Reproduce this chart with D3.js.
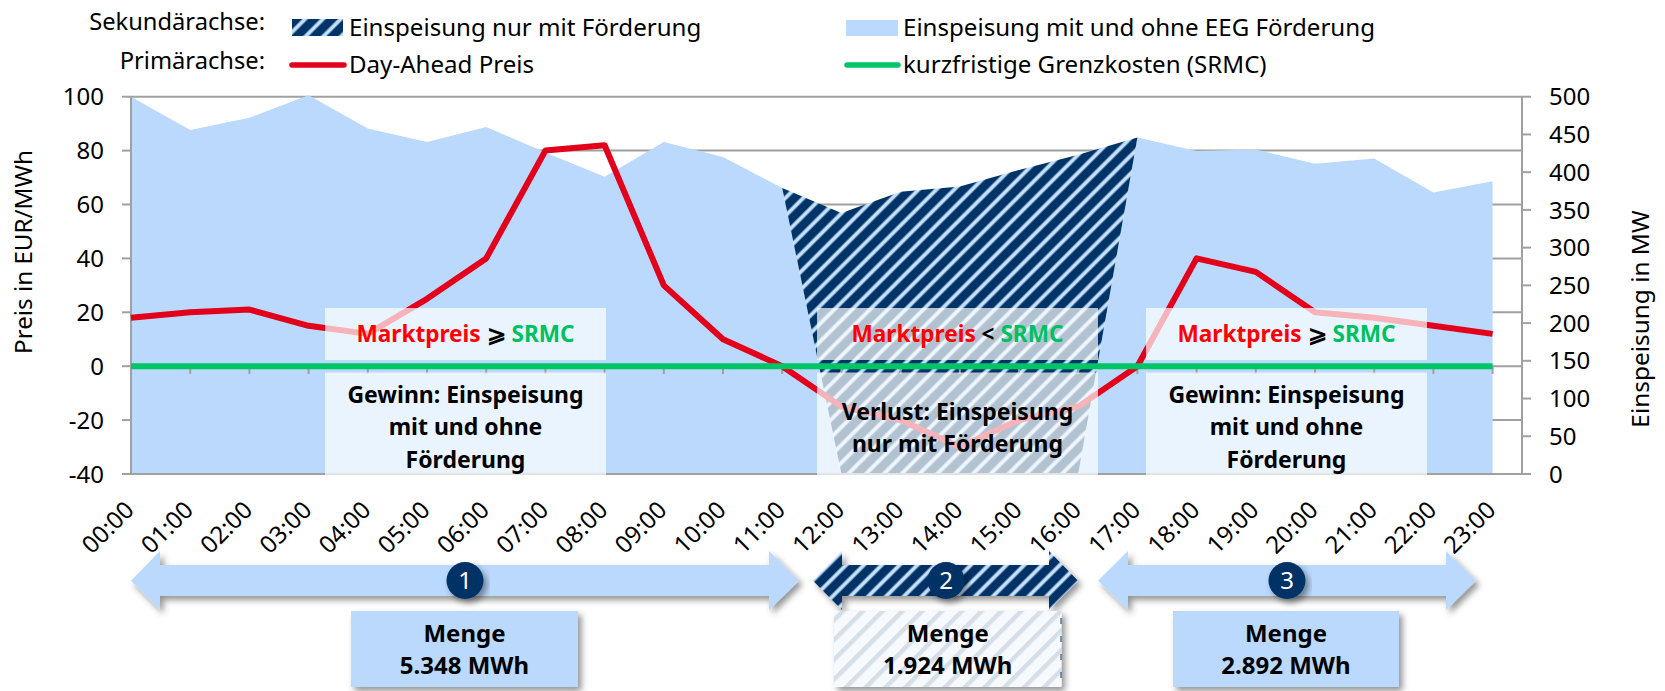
<!DOCTYPE html>
<html><head><meta charset="utf-8">
<style>html,body{margin:0;padding:0;background:#fff}svg{display:block}text{font-family:"Noto Sans",sans-serif;fill:#000}</style>
<script src="https://cdn.jsdelivr.net/npm/d3@7"></script></head><body>
<svg id="c" width="1665" height="691"></svg>
<script>
const stunden = ["00:00","01:00","02:00","03:00","04:00","05:00","06:00","07:00","08:00","09:00","10:00","11:00","12:00","13:00","14:00","15:00","16:00","17:00","18:00","19:00","20:00","21:00","22:00","23:00"];
const preis = [18,20,21,15,12,25,40,80,82,30,10,0,-15,-20,-30,-20,-15,0,40,35,20,18,15,12];
const srmc = [0,0,0,0,0,0,0,0,0,0,0,0,0,0,0,0,0,0,0,0,0,0,0,0];
const einspeisungMitOhne = [500,456,472,502,458,440,460,426,394,440,420,379,0,0,0,0,0,446,428,430,411,418,373,388];
const einspeisungNurFoerderung = [0,0,0,0,0,0,0,0,0,0,0,0,346,374,381,403,423,0,0,0,0,0,0,0];
const primaerTicks = [-40,-20,0,20,40,60,80,100];
const sekundaerTicks = [0,50,100,150,200,250,300,350,400,450,500];
const mengen = [["1","5.348 MWh"],["2","1.924 MWh"],["3","2.892 MWh"]];

const svg = d3.select("#c"), defs = svg.append("defs");
const L=131,R=1522,T=96.7,B=474;
const C={grid:"#a0a0a0",blue:"#bad9fd",navy:"#003366",red:"#e2001a",green:"#00c566"};
const x=d3.scalePoint().domain(stunden).range([L,1492.6]);
const yP=d3.scaleLinear().domain([-40,100]).range([B,T]);
const yS=d3.scaleLinear().domain([0,500]).range([B,T]);

// diagonal hatch with soft stripe edges
const P=12.6;
const ph=defs.append("pattern").attr("id","h").attr("patternUnits","userSpaceOnUse")
  .attr("width",P).attr("height",P).attr("patternTransform","rotate(45)");
ph.append("rect").attr("width",P).attr("height",P).attr("fill",C.navy);
ph.append("rect").attr("x",0).attr("width",4.8).attr("height",P).attr("fill","#5f87b3");
ph.append("rect").attr("x",.9).attr("width",3).attr("height",P).attr("fill","#c6e0fd");
const pb=defs.append("pattern").attr("id","hBox").attr("patternUnits","userSpaceOnUse")
  .attr("width",14).attr("height",14).attr("patternTransform","rotate(45)");
pb.append("rect").attr("width",14).attr("height",14).attr("fill","#f6faff");
pb.append("rect").attr("x",4).attr("width",4.5).attr("height",14).attr("fill","#d6dfe8");
const f=defs.append("filter").attr("id","sh").attr("x","-10%").attr("y","-30%").attr("width","125%").attr("height","170%");
f.append("feDropShadow").attr("dx",3.5).attr("dy",4).attr("stdDeviation",3).attr("flood-color","#000").attr("flood-opacity",.42);

// grid
svg.append("g").selectAll("line").data(primaerTicks).join("line")
  .attr("x1",L).attr("x2",R).attr("y1",yP).attr("y2",yP).attr("stroke",C.grid).attr("stroke-width",2);

// stacked areas
const rows=stunden.map((s,i)=>({s,base:einspeisungMitOhne[i],nur:einspeisungNurFoerderung[i]}));
const st=d3.stack().keys(["base","nur"])(rows);
const area=d3.area().x(d=>x(d.data.s)).y0(d=>yS(d[0])).y1(d=>yS(d[1]));
svg.append("path").datum(st[0]).attr("d",area).attr("fill",C.blue);
svg.append("path").datum(st[1]).attr("d",area).attr("fill","url(#h)");

// axes
const axisG=svg.append("g");
axisG.append("line").attr("x1",L).attr("x2",L).attr("y1",T).attr("y2",B+1).attr("stroke",C.grid).attr("stroke-width",2);
axisG.append("line").attr("x1",R).attr("x2",R).attr("y1",T).attr("y2",B+1).attr("stroke",C.grid).attr("stroke-width",2);
axisG.append("line").attr("x1",L).attr("x2",R).attr("y1",B).attr("y2",B).attr("stroke",C.grid).attr("stroke-width",2);
axisG.selectAll(".tl").data(primaerTicks).join("line").attr("x1",122).attr("x2",L).attr("y1",yP).attr("y2",yP).attr("stroke",C.grid).attr("stroke-width",2);
axisG.selectAll(".tr").data(sekundaerTicks).join("line").attr("x1",R).attr("x2",1531).attr("y1",yS).attr("y2",yS).attr("stroke",C.grid).attr("stroke-width",2);
axisG.selectAll(".tx").data(stunden).join("line").attr("x1",x).attr("x2",x).attr("y1",yP(0)).attr("y2",374).attr("stroke",C.grid).attr("stroke-width",2);

const FS=24;
svg.append("g").selectAll("text").data(primaerTicks).join("text").attr("x",104).attr("y",yP).attr("dy",".36em").attr("text-anchor","end").attr("font-size",FS).text(d=>d);
svg.append("g").selectAll("text").data(sekundaerTicks).join("text").attr("x",1549).attr("y",yS).attr("dy",".36em").attr("font-size",FS).text(d=>d);
svg.append("g").selectAll("text").data(stunden).join("text").attr("text-anchor","end").attr("font-size",FS)
  .attr("transform",d=>`translate(${x(d)+4.5},${511.5}) rotate(-45)`).text(d=>d);
svg.append("text").attr("transform",`translate(23,252) rotate(-90)`).attr("dy",".36em").attr("text-anchor","middle").attr("font-size",24.2).text("Preis in EUR/MWh");
svg.append("text").attr("transform",`translate(1640,319) rotate(-90)`).attr("dy",".36em").attr("text-anchor","middle").attr("font-size",24.4).text("Einspeisung in MW");

// price line
const ln=d3.line().x((d,i)=>x(stunden[i])).y(d=>yP(d));
svg.append("path").datum(preis).attr("d",ln).attr("fill","none").attr("stroke",C.red).attr("stroke-width",6).attr("stroke-linejoin","round");

// translucent boxes
const boxes=[[325,606],[817,1098],[1146,1427]];
boxes.forEach(([a,b])=>{
  svg.append("rect").attr("x",a).attr("y",308).attr("width",b-a).attr("height",52).attr("fill","#fff").attr("fill-opacity",.7);
  svg.append("rect").attr("x",a).attr("y",372.5).attr("width",b-a).attr("height",102.5).attr("fill","#fff").attr("fill-opacity",.7);
});
// SRMC
svg.append("path").datum(srmc).attr("d",ln).attr("fill","none").attr("stroke",C.green).attr("stroke-width",6);

// box texts
function cmp(cx,sym){
  const t=svg.append("text").attr("x",cx).attr("y",334).attr("dy",".36em").attr("text-anchor","middle").attr("font-size",22.6).attr("font-weight",700);
  t.append("tspan").text("Marktpreis").style("fill","#ff0000");
  t.append("tspan").text(" "+sym+" ");
  t.append("tspan").text("SRMC").style("fill","#00c060");
}
const cxs=[465.5,957.5,1286.5];
cmp(cxs[0],"⩾");cmp(cxs[1],"<");cmp(cxs[2],"⩾");
function lines(cx,ys,arr,fs){arr.forEach((s,i)=>svg.append("text").attr("x",cx).attr("y",ys[i]).attr("dy",".36em").attr("text-anchor","middle").attr("font-size",fs).attr("font-weight",700).text(s));}
lines(cxs[0],[395,427,460],["Gewinn: Einspeisung","mit und ohne","Förderung"],23);
lines(cxs[1],[412,444],["Verlust: Einspeisung","nur mit Förderung"],23);
lines(cxs[2],[395,427,460],["Gewinn: Einspeisung","mit und ohne","Förderung"],23);

// arrows
const arrows=[[131,160,769,799,C.blue,465],[813,842,1049,1078,"url(#h)",946],[1098,1128,1446,1476,C.blue,1287]];
arrows.forEach(([a,b,c,d,fill])=>{
  const y0=565,y1=596,h0=551,h1=610,m=580.7;
  svg.append("path").attr("d",`M${a},${m}L${b},${h0}L${b},${y0}L${c},${y0}L${c},${h0}L${d},${m}L${c},${h1}L${c},${y1}L${b},${y1}L${b},${h1}Z`).attr("fill",fill).attr("filter","url(#sh)");
});
arrows.forEach((r,i)=>{
  svg.append("circle").attr("cx",r[5]).attr("cy",580.5).attr("r",18.5).attr("fill",C.navy).attr("filter","url(#sh)");
  svg.append("text").attr("x",r[5]).attr("y",580.5).attr("dy",".36em").attr("text-anchor","middle").attr("font-size",FS).style("fill","#fff").text(mengen[i][0]);
});
// Menge boxes
[[351,578,C.blue],[834,1061.5,"url(#hBox)"],[1173,1399,C.blue]].forEach((r,i)=>{
  svg.append("rect").attr("x",r[0]).attr("y",611).attr("width",r[1]-r[0]).attr("height",76).attr("fill",r[2]).attr("filter","url(#sh)");
  lines((r[0]+r[1])/2,[633,665],["Menge",mengen[i][1]],24);
});
svg.append("line").attr("x1",1061).attr("x2",1061).attr("y1",618).attr("y2",687).attr("stroke",C.navy).attr("stroke-width",1).attr("stroke-dasharray","6 12");

// legend
const leg=svg.append("g");
const lt=(x0,y,s,anc,fs)=>leg.append("text").attr("x",x0).attr("y",y).attr("text-anchor",anc||"start").attr("font-size",fs||24.1).text(s);
lt(265,29.5,"Sekundärachse:","end",23.7);lt(265,69,"Primärachse:","end",23.7);
leg.append("rect").attr("x",292).attr("y",19).attr("width",51).attr("height",17).attr("fill","url(#h)");
leg.append("rect").attr("x",846).attr("y",20).attr("width",52).attr("height",16).attr("fill",C.blue);
leg.append("line").attr("x1",292).attr("x2",344).attr("y1",65).attr("y2",65).attr("stroke",C.red).attr("stroke-width",5.5).attr("stroke-linecap","round");
leg.append("line").attr("x1",847).attr("x2",898).attr("y1",65).attr("y2",65).attr("stroke",C.green).attr("stroke-width",5.5).attr("stroke-linecap","round");
lt(349,36,"Einspeisung nur mit Förderung");lt(349,73,"Day-Ahead Preis");
lt(903,36,"Einspeisung mit und ohne EEG Förderung");lt(903,73,"kurzfristige Grenzkosten (SRMC)");
</script></body></html>
